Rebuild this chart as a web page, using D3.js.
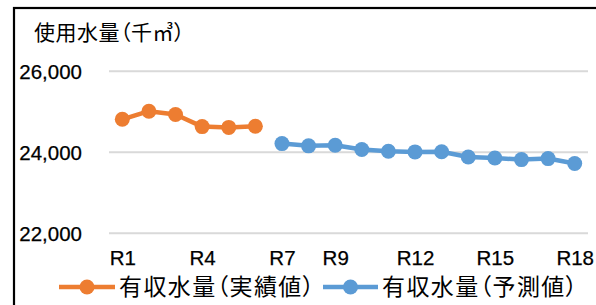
<!DOCTYPE html>
<html><head><meta charset="utf-8">
<script src="https://cdn.jsdelivr.net/npm/d3@7"></script>
<style>
html,body{margin:0;padding:0;background:#fff;}
svg{display:block;}
.cjk{font-family:'Noto Sans CJK JP',sans-serif;font-feature-settings:"palt";}
</style></head>
<body>
<svg id="chart" width="596" height="305"></svg>
<script>
const categories = ["R1","R2","R3","R4","R5","R6","R7","R8","R9","R10","R11","R12","R13","R14","R15","R16","R17","R18"];
const tickLabels = ["R1","R4","R7","R9","R12","R15","R18"];
const actualCats = ["R1","R2","R3","R4","R5","R6"];
const actualValues = [24800, 25000, 24920, 24620, 24600, 24630];
const forecastCats = ["R7","R8","R9","R10","R11","R12","R13","R14","R15","R16","R17","R18"];
const forecastValues = [24200, 24145, 24160, 24055, 24010, 23995, 24000, 23870, 23845, 23805, 23830, 23710];
const yTicks = [22000, 24000, 26000];
const seriesNames = ["有収水量（実績値）", "有収水量（予測値）"];
const yTitle = "使用水量（千㎥）";

const svg = d3.select("#chart");
const plot = {left: 109, right: 588};

const x = d3.scalePoint().domain(categories).range([plot.left, plot.right]).padding(0.5);
const y = d3.scaleLinear().domain([22000, 26000]).range([232.7, 70.7]);

// frame
svg.append("rect").attr("x", 14).attr("y", 8).attr("width", 700).attr("height", 400)
  .attr("fill", "none").attr("stroke", "#000").attr("stroke-width", 2.2);

// gridlines + y labels
const yAxis = d3.axisLeft(y).tickValues(yTicks).tickSize(-(plot.right - plot.left)).tickFormat(d3.format(","));
const gy = svg.append("g").attr("transform", `translate(${plot.left},0)`).call(yAxis);
gy.select(".domain").remove();
gy.selectAll(".tick line").attr("stroke", "#d9d9d9").attr("stroke-width", 2);
gy.selectAll(".tick text").attr("x", -27).attr("fill", "#000")
  .style("font-family", "'Liberation Sans', Arial, sans-serif").style("font-size", "20.5px")
  .attr("stroke", "#000").attr("stroke-width", 0.25)
  .attr("dy", "0.36em");

// x axis labels
const xAxis = d3.axisBottom(x).tickValues(tickLabels).tickSize(0);
const gx = svg.append("g").attr("transform", `translate(0,250)`).call(xAxis);
gx.select(".domain").remove();
gx.selectAll(".tick text").attr("fill", "#000").attr("y", 0).attr("dy", "0.75em")
  .attr("stroke", "#000").attr("stroke-width", 0.25)
  .style("font-family", "'Liberation Sans', Arial, sans-serif").style("font-size", "20.5px");

const line = d3.line().x(d => x(d[0])).y(d => y(d[1]));
const series = [
  {cats: actualCats, vals: actualValues, color: "#ED7D31"},
  {cats: forecastCats, vals: forecastValues, color: "#5B9BD5"}
];
series.forEach(s => {
  const pts = s.cats.map((c, i) => [c, s.vals[i]]);
  svg.append("path").datum(pts).attr("d", line).attr("fill", "none")
    .attr("stroke", s.color).attr("stroke-width", 4.5).attr("stroke-linejoin", "round");
  svg.append("g").selectAll("circle").data(pts).join("circle")
    .attr("cx", d => x(d[0])).attr("cy", d => y(d[1])).attr("r", 7.5).attr("fill", s.color);
});

// title
svg.append("text").attr("class", "cjk").attr("x", 34).attr("y", 32.5).attr("dy", "0.36em").text(yTitle)
  .attr("fill", "#000").style("font-size", "21px").style("letter-spacing", "0.5px");

// legend
const legendItems = [
  {name: seriesNames[0], color: series[0].color, x0: 59, x1: 115, tx: 119},
  {name: seriesNames[1], color: series[1].color, x0: 323, x1: 378, tx: 382}
];
const ly = 287;
legendItems.forEach(it => {
  svg.append("line").attr("x1", it.x0).attr("x2", it.x1).attr("y1", ly).attr("y2", ly)
    .attr("stroke", it.color).attr("stroke-width", 4.5);
  svg.append("circle").attr("cx", (it.x0 + it.x1) / 2).attr("cy", ly).attr("r", 7.5).attr("fill", it.color);
  svg.append("text").attr("class", "cjk").attr("x", it.tx).attr("y", ly).attr("dy", "0.36em").text(it.name)
    .attr("fill", "#000").style("font-size", "23px").style("letter-spacing", "1.4px");
});
</script>
</body></html>
